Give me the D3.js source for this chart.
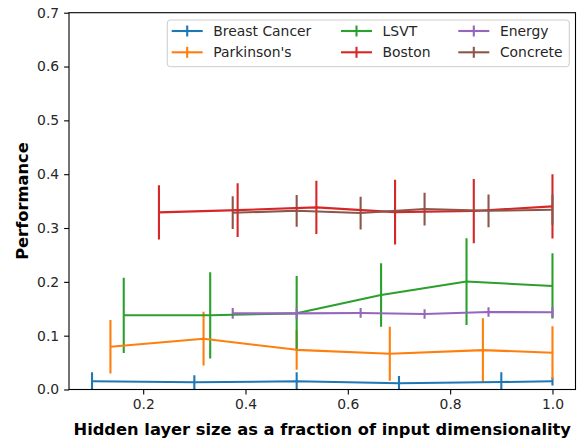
<!DOCTYPE html>
<html>
<head>
<meta charset="utf-8">
<script src="https://cdn.jsdelivr.net/npm/d3@7"></script>
<style>
  body { margin: 0; background: #fff; }
  svg { font-family: "DejaVu Sans", sans-serif; }
</style>
</head>
<body>
<svg id="chart"></svg>
<script>
// Series: x = hidden size / input dim, y = mean performance, err = +/- std
const seriesNames = ['Breast Cancer', "Parkinson's", 'LSVT', 'Boston', 'Energy', 'Concrete'];
const seriesColors = ['#1f77b4', '#ff7f0e', '#2ca02c', '#d62728', '#9467bd', '#8c564b'];

const breastX = [0.1, 0.3, 0.5, 0.7, 0.9, 1.0];
const breastY = [0.0152, 0.0134, 0.0152, 0.0115, 0.0139, 0.0152];
const breastErr = [0.0168, 0.013, 0.0168, 0.0136, 0.018, 0.008];

const parkX = [0.136, 0.318, 0.5, 0.682, 0.864, 1.0];
const parkY = [0.0795, 0.0944, 0.0737, 0.0664, 0.0732, 0.0683];
const parkErr = [0.0497, 0.05, 0.037, 0.05, 0.059, 0.049];

const lsvtX = [0.162, 0.331, 0.5, 0.665, 0.832, 1.0];
const lsvtY = [0.1378, 0.1378, 0.1415, 0.1757, 0.2005, 0.1924];
const lsvtErr = [0.07, 0.08, 0.0695, 0.059, 0.0807, 0.0605];

const bostonX = [0.2308, 0.3846, 0.5385, 0.6923, 0.8462, 1.0];
const bostonY = [0.329, 0.3333, 0.3383, 0.3296, 0.3315, 0.3402];
const bostonErr = [0.0503, 0.05, 0.0494, 0.06, 0.0596, 0.0596];

const energyX = [0.375, 0.5, 0.625, 0.75, 0.875, 1.0];
const energyY = [0.1415, 0.1415, 0.1422, 0.1403, 0.144, 0.1434];
const energyErr = [0.01, 0.01, 0.009, 0.0087, 0.0087, 0.01];

const concreteX = [0.375, 0.5, 0.625, 0.75, 0.875, 1.0];
const concreteY = [0.3284, 0.332, 0.3278, 0.3352, 0.332, 0.334];
const concreteErr = [0.0304, 0.0295, 0.0304, 0.0304, 0.0304, 0.028];

const xTicks = [0.2, 0.4, 0.6, 0.8, 1.0];
const yTicks = [0.0, 0.1, 0.2, 0.3, 0.4, 0.5, 0.6, 0.7];

const xLabel = 'Hidden layer size as a fraction of input dimensionality';
const yLabel = 'Performance';

class ErrorbarChart {
    constructor(_config, _series) {
        this.config = {
            parentElement: _config.parentElement,
            containerWidth: _config.containerWidth || 584,
            containerHeight: _config.containerHeight || 443,
            margin: { top: 12.7, bottom: 53.5, right: 8.5, left: 69 }
        };
        this.series = _series;
        this.initVis();
    }

    initVis() {
        let vis = this;

        vis.width = vis.config.containerWidth - vis.config.margin.left - vis.config.margin.right;
        vis.height = vis.config.containerHeight - vis.config.margin.top - vis.config.margin.bottom;

        vis.svg = d3.select(vis.config.parentElement)
            .attr('width', vis.config.containerWidth)
            .attr('height', vis.config.containerHeight);

        vis.chart = vis.svg.append('g')
            .attr('transform', `translate(${vis.config.margin.left}, ${vis.config.margin.top})`);

        vis.svg.append('defs').append('clipPath')
            .attr('id', 'plot-clip')
            .append('rect')
            .attr('width', vis.width)
            .attr('height', vis.height);

        // matplotlib-ish 5% margins around [0.1, 1.0]
        vis.x = d3.scaleLinear().domain([0.055, 1.045]).range([0, vis.width]);
        vis.y = d3.scaleLinear().domain([0, 0.7]).range([vis.height, 0]);

        let xAxis = d3.axisBottom(vis.x).tickValues(xTicks).tickFormat(d3.format('.1f'))
            .tickSizeInner(4.9).tickSizeOuter(0).tickPadding(4.9);
        let yAxis = d3.axisLeft(vis.y).tickValues(yTicks).tickFormat(d3.format('.1f'))
            .tickSizeInner(4.9).tickSizeOuter(0).tickPadding(4.9);

        let gx = vis.chart.append('g')
            .attr('class', 'x-axis')
            .attr('transform', `translate(0, ${vis.height})`)
            .call(xAxis);
        let gy = vis.chart.append('g')
            .attr('class', 'y-axis')
            .call(yAxis);

        [gx, gy].forEach(g => {
            g.select('.domain').remove();
            g.selectAll('.tick line').attr('stroke', '#000').attr('stroke-width', 1.1);
            g.selectAll('.tick text')
                .attr('fill', '#262626')
                .style('font-size', '13.9px')
                .style('font-family', '"DejaVu Sans", sans-serif');
        });

        let plot = vis.chart.append('g').attr('clip-path', 'url(#plot-clip)');

        let line = d3.line().x(d => vis.x(d.x)).y(d => vis.y(d.y));

        // error bars go below all data lines (matplotlib zorder)
        vis.series.forEach(s => {
            plot.selectAll(null)
                .data(s.points)
                .enter()
                .append('line')
                .attr('x1', d => vis.x(d.x))
                .attr('x2', d => vis.x(d.x))
                .attr('y1', d => vis.y(d.y - d.err))
                .attr('y2', d => vis.y(d.y + d.err))
                .attr('stroke', s.color)
                .attr('stroke-width', 2.1);
        });

        vis.series.forEach(s => {
            plot.append('path')
                .datum(s.points)
                .attr('d', line)
                .attr('fill', 'none')
                .attr('stroke', s.color)
                .attr('stroke-width', 2.1)
                .attr('stroke-linejoin', 'round');
        });

        // axes frame
        vis.chart.append('rect')
            .attr('width', vis.width)
            .attr('height', vis.height)
            .attr('fill', 'none')
            .attr('stroke', '#000')
            .attr('stroke-width', 1.1);

        // labels
        vis.chart.append('text')
            .attr('x', vis.width / 2)
            .attr('y', vis.height + 45.4)
            .attr('text-anchor', 'middle')
            .style('font-size', '16.3px')
            .style('font-weight', 'bold')
            .text(xLabel);

        vis.chart.append('text')
            .attr('transform', `translate(${28.3 - vis.config.margin.left}, ${vis.height / 2}) rotate(-90)`)
            .attr('text-anchor', 'middle')
            .style('font-size', '16.3px')
            .style('font-weight', 'bold')
            .text(yLabel);

        vis.drawLegend();
    }

    drawLegend() {
        let vis = this;
        // legend laid out column-wise, 3 columns x 2 rows
        let legend = vis.svg.append('g').attr('transform', 'translate(167.3, 20)');

        legend.append('rect')
            .attr('width', 402)
            .attr('height', 46.7)
            .attr('rx', 3)
            .attr('fill', '#fff')
            .attr('fill-opacity', 0.8)
            .attr('stroke', '#cccccc')
            .attr('stroke-width', 1);

        let colX = [4.4, 173.7, 291];
        let rowY = [11, 32.3];

        let items = legend.selectAll('.legend-item')
            .data(vis.series)
            .enter()
            .append('g')
            .attr('class', 'legend-item')
            .attr('transform', (d, i) => `translate(${colX[Math.floor(i / 2)]}, ${rowY[i % 2]})`);

        items.append('line')
            .attr('x1', 0).attr('x2', 31)
            .attr('y1', 0).attr('y2', 0)
            .attr('stroke', d => d.color)
            .attr('stroke-width', 2.1);

        items.append('line')
            .attr('x1', 15.5).attr('x2', 15.5)
            .attr('y1', -5.5).attr('y2', 5.5)
            .attr('stroke', d => d.color)
            .attr('stroke-width', 2.1);

        items.append('text')
            .attr('x', 41.6)
            .attr('dy', '0.36em')
            .attr('fill', '#262626')
            .style('font-size', '13.9px')
            .text(d => d.name);
    }
}

let xs = [breastX, parkX, lsvtX, bostonX, energyX, concreteX];
let ys = [breastY, parkY, lsvtY, bostonY, energyY, concreteY];
let errs = [breastErr, parkErr, lsvtErr, bostonErr, energyErr, concreteErr];

let series = seriesNames.map((name, i) => ({
    name: name,
    color: seriesColors[i],
    points: xs[i].map((x, j) => ({ x: x, y: ys[i][j], err: errs[i][j] }))
}));

new ErrorbarChart({ parentElement: '#chart' }, series);
</script>
</body>
</html>
